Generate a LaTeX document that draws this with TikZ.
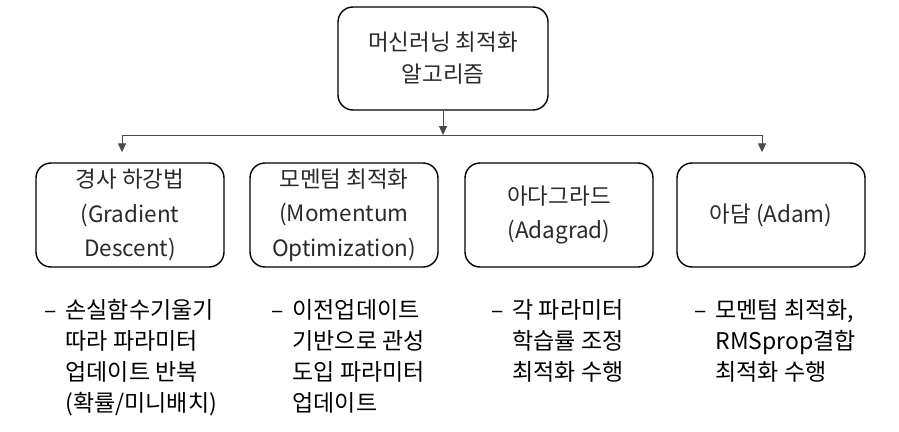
\documentclass[tikz,border=0pt]{standalone}
\usepackage{fontspec}
\setmainfont{Noto Sans CJK KR}
\usetikzlibrary{calc,arrows.meta}
\definecolor{boxtext}{HTML}{2A2A2A}
\definecolor{linegray}{HTML}{4A4A4A}
\tikzset{
  mainbox/.style={draw=black, line width=1.4pt, rounded corners=15pt, minimum width=210pt, minimum height=103pt, align=center, text=boxtext, font=\fontsize{22.5}{32}\selectfont, inner sep=0pt},
  subbox/.style={draw=black, line width=1.4pt, rounded corners=15pt, minimum width=188pt, minimum height=104pt, align=center, text=boxtext, font=\fontsize{22.5}{34.5}\selectfont, inner sep=0pt},
  desc/.style={anchor=north west, align=left, inner sep=0pt, font=\fontsize{23}{31}\selectfont, text=black},
  conn/.style={draw=linegray, line width=1pt},
  arr/.style={conn, -{Triangle[length=9pt,width=8pt]}}
}
\newcommand{\descbox}[1]{\begin{tabular}{@{}l@{\hspace{9pt}}l@{}}#1\end{tabular}}
\begin{document}
\begin{tikzpicture}[x=1pt,y=-1pt]
\useasboundingbox (0,0) rectangle (899,431);
\node[mainbox] (top) at (443,58.5) {머신러닝 최적화\\알고리즘};
\node[subbox] (b1) at (130,215) {경사 하강법\\(Gradient\\Descent)};
\node[subbox] (b2) at (344,215) {모멘텀 최적화\\(Momentum\\Optimization)};
\node[subbox] (b3) at (559,215) {아다그라드\\(Adagrad)};
\node[subbox] (b4) at (771,215) {아담 (Adam)};
\coordinate (j) at (443,135);
\coordinate (l) at (122,135);
\coordinate (r) at (762,135);
\draw[arr] (top.south) -- (j);
\draw[conn] (l) -- (r);
\draw[arr] (l) -- ([xshift=-8pt,yshift=10pt]b1.north);
\draw[arr] (r) -- ([xshift=-9pt,yshift=10pt]b4.north);
\node[desc] (d1) at (44,297) {\descbox{–&손실함수기울기\\&따라 파라미터\\&업데이트 반복\\&(확률/미니배치)}};
\node[desc] (d2) at (271,297) {\descbox{–&이전업데이트\\&기반으로 관성\\&도입 파라미터\\&업데이트}};
\node[desc] (d3) at (491,297) {\descbox{–&각 파라미터\\&학습률 조정\\&최적화 수행}};
\node[desc] (d4) at (694,297) {\descbox{–&모멘텀 최적화,\\&RMSprop결합\\&최적화 수행}};
\end{tikzpicture}
\end{document}
